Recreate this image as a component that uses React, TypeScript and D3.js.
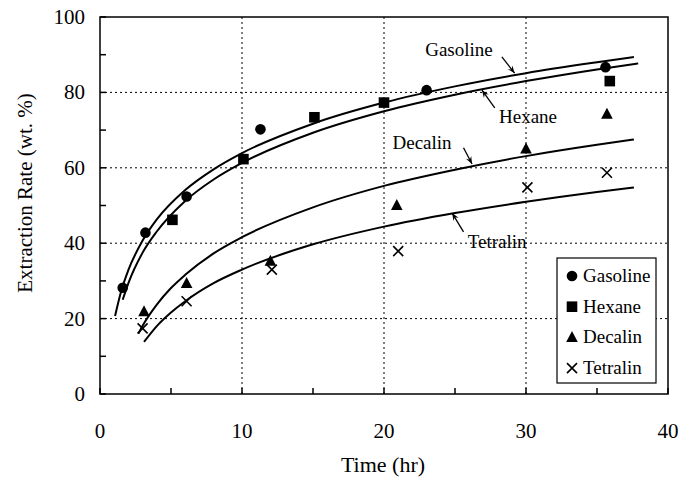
import React from 'react';
import * as d3 from 'd3';

// measured points (time hr, extraction wt.%)
const gasolinePts: [number, number][] = [[1.6, 28.2], [3.2, 42.8], [6.1, 52.4], [11.3, 70.2], [23.0, 80.6], [35.6, 86.7]];
const hexanePts: [number, number][] = [[5.1, 46.2], [10.1, 62.3], [15.1, 73.4], [20.0, 77.3], [35.9, 83.0]];
const decalinPts: [number, number][] = [[3.1, 21.8], [6.1, 29.3], [12.0, 35.2], [20.9, 50.0], [30.0, 65.0], [35.7, 74.2]];
const tetralinPts: [number, number][] = [[3.0, 17.4], [6.1, 24.6], [12.1, 33.0], [21.0, 37.9], [30.1, 54.8], [35.7, 58.7]];

// fitted curves
const gasolineFit: [number, number][] = [[1.06, 20.7], [1.5, 27.4], [2, 32.9], [3, 40.7], [4, 46.3], [6, 54.1], [8, 59.6], [10, 63.9], [15, 71.7], [20, 77.3], [25, 81.6], [30, 85.1], [35, 88.0], [37.6, 89.4]];
const hexaneFit: [number, number][] = [[1.6, 25.0], [2, 29.4], [3, 37.5], [4, 43.1], [6, 51.2], [8, 56.9], [10, 61.3], [15, 69.3], [20, 75.0], [25, 79.4], [30, 83.0], [35, 86.1], [37.9, 87.7]];
const decalinFit: [number, number][] = [[2.7, 16.0], [3, 18.1], [4, 23.7], [5, 28.1], [6, 31.6], [8, 37.3], [10, 41.6], [15, 49.5], [20, 55.2], [25, 59.5], [30, 63.1], [35, 66.1], [37.6, 67.5]];
const tetralinFit: [number, number][] = [[3.1, 13.8], [4, 18.0], [5, 21.6], [6, 24.6], [8, 29.4], [10, 33.0], [15, 39.7], [20, 44.4], [25, 48.0], [30, 51.0], [35, 53.6], [37.6, 54.8]];

const xTicks = [0, 10, 20, 30, 40];
const yTicks = [0, 20, 40, 60, 80, 100];
const xMinor = d3.range(0, 41, 5);
const yMinor = d3.range(0, 101, 10);

// curve labels: text position (start x, centre y) and arrow from -> to, data units
const labels = [
  { text: 'Gasoline', tx: 22.9, ty: 91.2, from: [28.3, 89.4], to: [29.2, 85.1] },
  { text: 'Hexane', tx: 28.1, ty: 73.5, from: [27.8, 75.9], to: [26.9, 80.6] },
  { text: 'Decalin', tx: 20.6, ty: 66.6, from: [25.6, 65.3], to: [26.2, 61.0] },
  { text: 'Tetralin', tx: 25.9, ty: 40.3, from: [25.6, 43.0], to: [24.8, 48.0] },
];

const legendItems = ['Gasoline', 'Hexane', 'Decalin', 'Tetralin'];

const W = 688, H = 485;
const L = 100, R = 668, T = 17, B = 394;
const font = '"Liberation Serif", "Times New Roman", serif';

const Marker = ({ kind, x, y }: { kind: string; x: number; y: number }) => {
  if (kind === 'Gasoline') return <circle cx={x} cy={y} r={5.3} fill="#000" />;
  if (kind === 'Hexane') return <rect x={x - 5.3} y={y - 5.3} width={10.6} height={10.6} fill="#000" />;
  if (kind === 'Decalin') return <path d={`M${x},${y - 6.5}L${x + 5.8},${y + 4.5}L${x - 5.8},${y + 4.5}Z`} fill="#000" />;
  return <path d={`M${x - 5},${y - 5}L${x + 5},${y + 5}M${x + 5},${y - 5}L${x - 5},${y + 5}`} stroke="#000" strokeWidth={1.6} />;
};

export default function App() {
  const x = d3.scaleLinear().domain([0, 40]).range([L, R]);
  const y = d3.scaleLinear().domain([0, 100]).range([B, T]);
  const line = d3.line<[number, number]>().x(d => x(d[0])).y(d => y(d[1])).curve(d3.curveMonotoneX);

  const series = [
    { name: 'Gasoline', pts: gasolinePts, fit: gasolineFit },
    { name: 'Hexane', pts: hexanePts, fit: hexaneFit },
    { name: 'Decalin', pts: decalinPts, fit: decalinFit },
    { name: 'Tetralin', pts: tetralinPts, fit: tetralinFit },
  ];

  const arrowHead = (fx: number, fy: number, tx: number, ty: number) => {
    const a = Math.atan2(ty - fy, tx - fx);
    const len = 8, sp = 0.38;
    return `M${tx},${ty}L${tx - len * Math.cos(a - sp)},${ty - len * Math.sin(a - sp)}L${tx - len * 0.6 * Math.cos(a)},${ty - len * 0.6 * Math.sin(a)}L${tx - len * Math.cos(a + sp)},${ty - len * Math.sin(a + sp)}Z`;
  };

  return (
    <svg width={W} height={H} style={{ position: 'absolute', left: 0, top: 0, background: '#fff' }}>
      {/* grid */}
      {xTicks.filter(t => t > 0 && t < 40).map(t => (
        <line key={'gx' + t} x1={x(t)} x2={x(t)} y1={T} y2={B} stroke="#000" strokeWidth={1} strokeDasharray="2,3" />
      ))}
      {yTicks.filter(t => t > 0 && t < 100).map(t => (
        <line key={'gy' + t} x1={L} x2={R} y1={y(t)} y2={y(t)} stroke="#000" strokeWidth={1} strokeDasharray="2,3" />
      ))}

      {/* fitted curves */}
      {series.map(s => (
        <path key={'f' + s.name} d={line(s.fit) || ''} fill="none" stroke="#000" strokeWidth={2} />
      ))}

      {/* points */}
      {series.map(s => s.pts.map((p, i) => (
        <Marker key={s.name + i} kind={s.name} x={x(p[0])} y={y(p[1])} />
      )))}

      {/* frame */}
      <rect x={L} y={T} width={R - L} height={B - T} fill="none" stroke="#000" strokeWidth={1.5} />
      {xMinor.map(t => (
        <line key={'tx' + t} x1={x(t)} x2={x(t)} y1={B} y2={B - 6} stroke="#000" strokeWidth={1.5} />
      ))}
      {yMinor.map(t => (
        <line key={'ty' + t} x1={L} x2={L + 6} y1={y(t)} y2={y(t)} stroke="#000" strokeWidth={1.5} />
      ))}

      {/* tick labels */}
      {xTicks.map(t => (
        <text key={'lx' + t} x={x(t)} y={438} textAnchor="middle" fontSize={21} fontFamily={font}>{t}</text>
      ))}
      {yTicks.map(t => (
        <text key={'ly' + t} x={85} y={y(t) + 7} textAnchor="end" fontSize={21} fontFamily={font}>{t}</text>
      ))}

      {/* axis titles */}
      <text x={(L + R) / 2 - 1} y={472} textAnchor="middle" fontSize={22} fontFamily={font}>Time (hr)</text>
      <text transform="translate(32,193) rotate(-90)" textAnchor="middle" fontSize={21} fontFamily={font}>Extraction Rate (wt. %)</text>

      {/* curve labels */}
      {labels.map(l => {
        const fx = x(l.from[0]), fy = y(l.from[1]), tx = x(l.to[0]), ty = y(l.to[1]);
        return (
          <g key={'a' + l.text}>
            <text x={x(l.tx)} y={y(l.ty) + 6} fontSize={19} fontFamily={font}>{l.text}</text>
            <line x1={fx} y1={fy} x2={tx} y2={ty} stroke="#000" strokeWidth={1.3} />
            <path d={arrowHead(fx, fy, tx, ty)} fill="#000" />
          </g>
        );
      })}

      {/* legend */}
      <rect x={557} y={258} width={99} height={125} fill="#fff" stroke="#000" strokeWidth={1.2} />
      {legendItems.map((k, i) => (
        <g key={'lg' + k}>
          <Marker kind={k} x={572} y={276 + i * 30.7} />
          <text x={583} y={276 + i * 30.7 + 6} fontSize={19} fontFamily={font}>{k}</text>
        </g>
      ))}
    </svg>
  );
}
